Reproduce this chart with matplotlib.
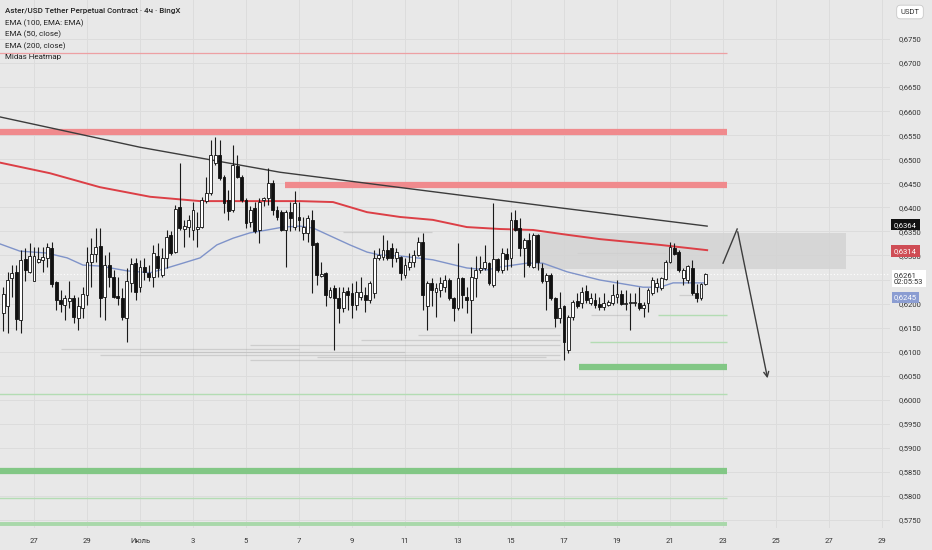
import matplotlib
matplotlib.use("Agg")
import matplotlib.pyplot as plt
from matplotlib.transforms import blended_transform_factory
import numpy as np

plt.rcParams['font.family'] = ['Roboto', 'DejaVu Sans']

# 4h candles, bar index 0 = 1 July 00:00
first_bar = -31
opens = [
    .6181, .6194, .6253, .6266, .6165, .6292, .6266, .6246, .6287, .6291,
    .6294, .6315, .6244, .6208, .6197, .6206, .6211, .6170, .6190, .6218,
    .6287, .6303, .6320, .6214, .6280, .6256, .6216, .6211, .6169, .6242,
    .6284, .6235, .6276, .6264, .6256, .6299, .6260, .6294, .6343, .6308,
    .6400, .6355, .6360, .6352, .6355, .6360, .6414, .6429, .6492, .6509,
    .6464, .6415, .6395, .6485, .6464, .6415, .6370, .6398, .6353, .6415,
    .6419, .6450, .6395, .6391, .6353, .6391, .6360, .6381, .6346, .6346,
    .6374, .6325, .6257, .6263, .6214, .6232, .6211, .6190, .6226, .6221,
    .6197, .6214, .6218, .6208, .6221, .6294, .6296, .6312, .6315, .6294,
    .6296, .6260, .6277, .6287, .6301, .6329, .6194, .6242, .6225, .6228,
    .6235, .6249, .6211, .6190, .6253, .6214, .6208, .6253, .6270, .6273,
    .6284, .6239, .6292, .6270, .6303, .6294, .6374, .6357, .6315, .6332,
    .6277, .6343, .6273, .6246, .6260, .6211, .6169, .6194, .6103, .6173,
    .6206, .6201, .6227, .6201, .6208, .6199, .6192, .6197, .6201, .6214,
    .6220, .6199, .6201, .6201, .6202, .6190, .6201, .6221, .6235, .6232,
    .6251, .6287, .6315, .6308, .6253, .6250, .6273, .6222, .6211, .6241,
]
highs = [
    .6235, .6266, .6280, .6280, .6312, .6315, .6325, .6318, .6318, .6318,
    .6325, .6327, .6246, .6228, .6218, .6246, .6218, .6214, .6235, .6318,
    .6336, .6357, .6357, .6301, .6308, .6270, .6256, .6232, .6273, .6294,
    .6294, .6291, .6294, .6280, .6322, .6325, .6315, .6353, .6350, .6405,
    .6492, .6374, .6384, .6412, .6391, .6422, .6464, .6540, .6547, .6540,
    .6467, .6436, .6530, .6509, .6467, .6419, .6402, .6412, .6419, .6422,
    .6481, .6457, .6402, .6395, .6395, .6412, .6433, .6412, .6381, .6384,
    .6395, .6329, .6287, .6266, .6235, .6239, .6235, .6235, .6235, .6242,
    .6246, .6256, .6235, .6246, .6312, .6315, .6343, .6332, .6325, .6315,
    .6298, .6294, .6305, .6312, .6339, .6346, .6246, .6253, .6242, .6256,
    .6260, .6253, .6214, .6325, .6256, .6235, .6277, .6298, .6298, .6322,
    .6287, .6410, .6294, .6315, .6315, .6391, .6395, .6377, .6336, .6346,
    .6346, .6345, .6284, .6263, .6263, .6214, .6225, .6197, .6176, .6208,
    .6221, .6235, .6239, .6221, .6221, .6214, .6221, .6208, .6241, .6250,
    .6228, .6228, .6221, .6221, .6235, .6204, .6232, .6256, .6253, .6256,
    .6291, .6329, .6325, .6311, .6273, .6280, .6291, .6241, .6242, .6263,
]
lows = [
    .6142, .6138, .6214, .6145, .6138, .6246, .6263, .6246, .6284, .6266,
    .6277, .6235, .6187, .6183, .6166, .6190, .6159, .6145, .6169, .6197,
    .6235, .6287, .6173, .6166, .6235, .6211, .6197, .6166, .6121, .6225,
    .6207, .6225, .6249, .6246, .6235, .6256, .6256, .6273, .6301, .6305,
    .6353, .6318, .6339, .6332, .6318, .6357, .6409, .6426, .6488, .6457,
    .6388, .6374, .6391, .6461, .6412, .6357, .6360, .6346, .6325, .6402,
    .6405, .6384, .6374, .6350, .6277, .6350, .6353, .6350, .6332, .6329,
    .6221, .6239, .6256, .6194, .6211, .6104, .6160, .6183, .6187, .6169,
    .6187, .6208, .6183, .6201, .6211, .6291, .6291, .6291, .6277, .6287,
    .6249, .6253, .6270, .6277, .6298, .6187, .6145, .6194, .6173, .6214,
    .6225, .6208, .6163, .6187, .6190, .6180, .6138, .6214, .6263, .6270,
    .6239, .6235, .6266, .6263, .6270, .6277, .6350, .6298, .6256, .6277,
    .6273, .6270, .6242, .6187, .6208, .6152, .6159, .6083, .6097, .6166,
    .6190, .6190, .6201, .6197, .6190, .6187, .6187, .6195, .6197, .6202,
    .6197, .6187, .6145, .6194, .6187, .6173, .6183, .6218, .6225, .6228,
    .6249, .6284, .6301, .6266, .6239, .6242, .6218, .6204, .6208, .6239,
]
closes = [
    .6220, .6249, .6263, .6167, .6291, .6269, .6299, .6299, .6292, .6296,
    .6318, .6241, .6208, .6199, .6211, .6211, .6172, .6195, .6220, .6287,
    .6303, .6317, .6211, .6280, .6256, .6214, .6211, .6172, .6246, .6282,
    .6225, .6275, .6266, .6256, .6305, .6273, .6294, .6339, .6305, .6397,
    .6357, .6362, .6374, .6395, .6360, .6415, .6429, .6509, .6509, .6461,
    .6409, .6393, .6488, .6464, .6415, .6367, .6395, .6350, .6412, .6419,
    .6450, .6395, .6381, .6353, .6391, .6377, .6409, .6374, .6360, .6377,
    .6322, .6260, .6262, .6218, .6228, .6211, .6190, .6225, .6218, .6197,
    .6225, .6225, .6208, .6242, .6294, .6301, .6312, .6294, .6294, .6308,
    .6263, .6280, .6287, .6301, .6329, .6218, .6242, .6228, .6232, .6242,
    .6249, .6211, .6190, .6253, .6218, .6208, .6256, .6270, .6273, .6287,
    .6242, .6292, .6270, .6305, .6292, .6374, .6353, .6315, .6332, .6280,
    .6343, .6287, .6246, .6260, .6211, .6169, .6190, .6121, .6173, .6204,
    .6195, .6225, .6208, .6211, .6197, .6192, .6201, .6204, .6218, .6220,
    .6199, .6202, .6204, .6204, .6190, .6197, .6228, .6249, .6242, .6253,
    .6287, .6318, .6304, .6270, .6270, .6278, .6221, .6211, .6241, .6261,
]

ema200_bars = [-31.7, -20.4, -9.1, 2.3, 13.6, 36.2, 43.7, 51.4, 58.9, 66.3, 74, 81.5, 89, 96.7, 104.1, 117.7, 128.4]
ema200_vals = [.6493, .6471, .6442, .6422, .6413, .6413, .6411, .6390, .6380, .6374, .6359, .6355, .6353, .6343, .6334, .6322, .6311]
ema50_bars = [-31.7, -27.2, -21.1, -16.5, -12.9, -9.1, -2.9, 2.3, 6.1, 9.7, 13.6, 17.4, 21.1, 24.9, 28.8, 32.4,
              36.2, 39.2, 43.7, 47.5, 51.4, 54.3, 58.9, 66.3, 74, 78.6, 81.5, 87.6, 91.2, 96.7, 104.1, 113.9,
              117.7, 120.7, 128.4]
ema50_vals = [.6324, .6309, .6305, .6295, .6280, .6278, .6268, .6264, .6274, .6284, .6295, .6322, .6336, .6347, .6353, .6359,
              .6361, .6357, .6338, .6322, .6307, .6301, .6299, .6291, .6274, .6270, .6276, .6284, .6284, .6266, .6249, .6234,
              .6234, .6243, .6243]

# falling trend line
trend_bars = [-31.7, 0, 31.7, 63.4, 95.1, 128.4]
trend_vals = [.6588, .6525, .6473, .6436, .6399, .6361]

# horizontal levels: (price, from bar, to bar)
red_levels = [(.6557, -32, 132.9), (.6446, 32.8, 132.9)]
red_thin = [(.6721, -32, 132.9)]
green_thick = [(.6068, 99.4, 132.9), (.5852, -32, 132.9)]
green_mid = [(.5742, -32, 132.9)]
green_thin = [(.6176, 117.3, 132.9), (.6120, 101.9, 132.9), (.6012, -32, 132.9), (.5796, -32, 132.9)]

# Midas heatmap streaks: (price, from bar, to bar)
heat = [(.6106, -18, 36), (.6093, -9, 95), (.6083, 25, 95), (.6114, 25, 95), (.6124, 50, 95),
        (.6135, 63, 95), (.6149, 75, 94), (.6305, 99, 119), (.6266, 101, 119), (.6176, 102, 111),
        (.6349, 46, 66), (.6218, 122, 126), (.6099, 0, 60), (.6088, 40, 92)]

zone_bars = (89.4, 159.8)
zone_prices = (.6272, .6347)
arrow_bars = [132.0, 135.2, 142.2]
arrow_vals = [.6284, .6355, .6039]

last_price = .6261
date_offsets = [-4, -2, 0, 2, 4, 6, 8, 10, 12, 14, 16, 18, 20, 22, 24, 26, 28]
date_labels = ["27", "29", "Июль", "3", "5", "7", "9", "11", "13", "15", "17", "19", "21", "23", "25", "27", "29"]

bg = '#e8e8e8'
fig = plt.figure(figsize=(9.32, 5.5), dpi=100, facecolor=bg)
ax = fig.add_axes([0, 22 / 550, 890 / 932, 528 / 550], facecolor=bg)
ax.set_xlim(-31.7, 169.8)
ax.set_ylim(0.57334, 0.68311)

# grid
for d in date_offsets:
    ax.axvline(d * 6, color='#dcdcdc', lw=0.7, zorder=0)
for p in np.arange(0.575, 0.6751, 0.005):
    ax.axhline(p, color='#dcdcdc', lw=0.7, zorder=0)

# heatmap
for p, a, b in heat:
    ax.hlines(p, a, b, color='#9c9c9c', lw=0.9, alpha=0.35, zorder=1)

# zone box
ax.fill_between(zone_bars, zone_prices[0], zone_prices[1], color='#d2d2d2', alpha=0.8, lw=0, zorder=1)

for p, a, b in red_levels:
    ax.hlines(p, a, b, color='#f08a8d', lw=4.5, zorder=2)
for p, a, b in red_thin:
    ax.hlines(p, a, b, color='#eda0a3', lw=0.9, zorder=2)
for p, a, b in green_thick:
    ax.hlines(p, a, b, color='#82c785', lw=4.5, zorder=2)
for p, a, b in green_mid:
    ax.hlines(p, a, b, color='#a9d8aa', lw=2.8, zorder=2)
for p, a, b in green_thin:
    ax.hlines(p, a, b, color='#b3dcb3', lw=1.0, zorder=2)

ax.axhline(last_price, color='white', lw=0.8, ls=(0, (1, 2)), zorder=2)

ax.plot(trend_bars, trend_vals, color='#3c3c3c', lw=1.0, zorder=3)
ax.plot(ema200_bars, ema200_vals, color='#dc3f46', lw=1.4, zorder=3)
ax.plot(ema50_bars, ema50_vals, color='#7f93c9', lw=1.0, zorder=3)

# candles
idx = np.arange(first_bar, first_bar + len(closes))
o = np.array(opens)
c = np.array(closes)
ax.vlines(idx, lows, highs, color='#1a1a1a', lw=0.8, zorder=4)
bottom = np.minimum(o, c)
height = np.maximum(np.abs(c - o), 0.00012)
colors = np.where(c >= o, 'white', '#111111')
ax.bar(idx, height, bottom=bottom, width=0.65, color=colors, edgecolor='#111111', lw=0.6, zorder=5)

# drawn arrow
ax.plot(arrow_bars[:2], arrow_vals[:2], color='#3c3c3c', lw=1.0, zorder=6)
ax.annotate('', xy=(arrow_bars[2], arrow_vals[2]), xytext=(arrow_bars[1], arrow_vals[1]),
            arrowprops=dict(arrowstyle='->', color='#3c3c3c', lw=1.0, mutation_scale=9), zorder=6)

# axes styling
for s in ax.spines.values():
    s.set_visible(False)
ax.set_xticks([d * 6 for d in date_offsets])
ax.set_xticklabels(date_labels)
ax.tick_params(axis='x', length=0, pad=7, labelsize=5.5, colors='#333333')
ax.yaxis.tick_right()
yt = np.arange(0.575, 0.6751, 0.005)
ax.set_yticks(yt)
ax.set_yticklabels([f"{v:.4f}".replace('.', ',') for v in yt])
ax.tick_params(axis='y', length=0, pad=6, labelsize=5.5, colors='#333333')

# legend text
legend = ["Aster/USD Tether Perpetual Contract · 4ч · BingX", "EMA (100, EMA: EMA)",
          "EMA (50, close)", "EMA (200, close)", "Midas Heatmap"]
for i, t in enumerate(legend):
    fig.text(5 / 932, 1 - (11.5 + i * 11.4) / 550, t, fontsize=5.8, color='#222222', va='center',
             fontweight='medium' if i == 0 else 'normal')

# right-side price tags
tr = blended_transform_factory(ax.transAxes, ax.transData)
xt = 1 + 4 / 890
ax.text(xt, .6364, "0,6364", transform=tr, fontsize=5.5, color='white', va='center', ha='left',
        bbox=dict(boxstyle='square,pad=0.35', fc='#111111', ec='none'), zorder=10)
ax.text(xt, .6309, "0,6314", transform=tr, fontsize=5.5, color='white', va='center', ha='left',
        bbox=dict(boxstyle='square,pad=0.35', fc='#cf4d55', ec='none'), zorder=10)
ax.text(xt, .6252, "0,6261\n02:05:53", transform=tr, fontsize=5.5, color='#333333', va='center', ha='left',
        linespacing=1.2, bbox=dict(boxstyle='square,pad=0.3', fc='white', ec='none'), zorder=10)
ax.text(xt, .6213, "0,6245", transform=tr, fontsize=5.5, color='white', va='center', ha='left',
        bbox=dict(boxstyle='square,pad=0.3', fc='#8b9dd2', ec='none'), zorder=11)

fig.text(910 / 932, 1 - 12 / 550, "USDT", fontsize=5.5, color='#333333', ha='center', va='center',
         bbox=dict(boxstyle='round,pad=0.5', fc='white', ec='#c8c8c8', lw=0.6))

fig.savefig('out.png', dpi=100, facecolor=bg)
